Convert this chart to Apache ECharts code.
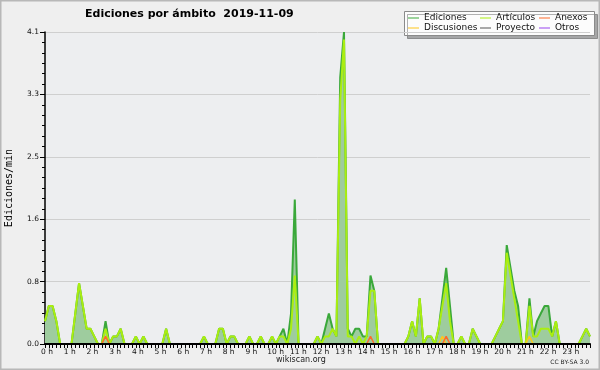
<!DOCTYPE html>
<html>
<head>
<meta charset="utf-8">
<script src="https://cdn.jsdelivr.net/npm/echarts@6/dist/echarts.min.js"></script>
<style>
html,body{margin:0;padding:0;background:#efefef;}
#chart{width:600px;height:370px;}
</style>
</head>
<body>
<div id="chart"></div>
<script>
// Tick labels of the time axis (one per hour)
const hourLabels = ['0 h','1 h','2 h','3 h','4 h','5 h','6 h','7 h','8 h','9 h','10 h','11 h',
  '12 h','13 h','14 h','15 h','16 h','17 h','18 h','19 h','20 h','21 h','22 h','23 h'];
// Y tick labels
const yTickLabels = ['0.0','0.8','1.6','2.5','3.3','4.1'];

// 10-minute bins, 00:00 .. 24:00 (145 points), edits per minute; one row = 2 hours
const ediciones = [
  0.3,0.5,0.5,0.3,0,0, 0,0,0.4,0.8,0.5,0.2,        // 00-02 h
  0.2,0.1,0,0,0.3,0, 0.1,0.1,0.2,0,0,0,            // 02-04 h
  0.1,0,0.1,0,0,0, 0,0,0.2,0,0,0,                  // 04-06 h
  0,0,0,0,0,0, 0.1,0,0,0,0.2,0.2,                  // 06-08 h
  0,0.1,0.1,0,0,0, 0.1,0,0,0.1,0,0,                // 08-10 h
  0.1,0,0.1,0.2,0,0.4, 1.9,0,0,0,0,0,              // 10-12 h
  0.1,0,0.2,0.4,0.2,0.1, 3.5,4.1,0.2,0.1,0.2,0.2,  // 12-14 h
  0.1,0.1,0.9,0.7,0,0, 0,0,0,0,0,0,                // 14-16 h
  0.1,0.3,0.1,0.6,0,0.1, 0.1,0,0.2,0.6,1.0,0.5,    // 16-18 h
  0,0,0.1,0,0,0.2, 0.1,0,0,0,0,0.1,                // 18-20 h
  0.2,0.3,1.3,1.0,0.7,0.5, 0,0,0.6,0.1,0.3,0.4,    // 20-22 h
  0.5,0.5,0.1,0.3,0,0, 0,0,0,0,0.1,0.2,            // 22-24 h
  0.1                                              // 24 h
];
const articulos = [
  0.3,0.5,0.5,0.3,0,0, 0,0,0.4,0.8,0.5,0.2,
  0.2,0.1,0,0,0.2,0, 0.1,0.1,0.2,0,0,0,
  0.1,0,0.1,0,0,0, 0,0,0.2,0,0,0,
  0,0,0,0,0,0, 0.1,0,0,0,0.2,0.2,
  0,0.1,0.1,0,0,0, 0.1,0,0,0.1,0,0,
  0.1,0,0.1,0.1,0,0.2, 0.9,0,0,0,0,0,
  0.1,0,0.1,0.1,0.2,0.1, 3.2,4.0,0.1,0.1,0,0.1,
  0,0.1,0.7,0.7,0,0, 0,0,0,0,0,0,
  0.1,0.3,0.1,0.6,0,0.1, 0.1,0,0.2,0.5,0.8,0.3,
  0,0,0.1,0,0,0.2, 0.1,0,0,0,0,0.1,
  0.2,0.3,1.2,0.9,0.6,0.3, 0,0,0.5,0.1,0.1,0.2,
  0.2,0.2,0.1,0.3,0,0, 0,0,0,0,0.1,0.2,
  0.1
];
const anexos = [
  0,0,0,0,0,0, 0,0,0,0,0,0,
  0,0,0,0,0.1,0, 0,0,0,0,0,0,
  0,0,0,0,0,0, 0,0,0,0,0,0,
  0,0,0,0,0,0, 0,0,0,0,0,0,
  0,0,0,0,0,0, 0,0,0,0,0,0,
  0,0,0,0,0,0, 0,0,0,0,0,0,
  0,0,0,0,0,0, 0,0,0,0,0,0,
  0,0,0.1,0,0,0, 0,0,0,0,0,0,
  0,0,0,0,0,0, 0,0,0,0,0.1,0,
  0,0,0,0,0,0, 0,0,0,0,0,0,
  0,0,0,0,0,0, 0,0,0,0,0,0,
  0,0,0,0,0,0, 0,0,0,0,0,0,
  0
];
const discusiones = [
  0,0,0,0,0,0, 0,0,0,0,0,0,
  0,0,0,0,0,0, 0,0,0,0,0,0,
  0,0,0,0,0,0, 0,0,0,0,0,0,
  0,0,0,0,0,0, 0,0,0,0,0,0,
  0,0,0,0,0,0, 0,0,0,0,0,0,
  0,0,0,0,0,0, 0,0,0,0,0,0,
  0,0,0,0,0,0, 0,0,0,0,0,0,
  0,0,0,0,0,0, 0,0,0,0,0,0,
  0,0,0,0,0,0, 0,0,0,0.1,0,0,
  0,0,0,0,0,0, 0,0,0,0,0,0,
  0,0,0,0,0,0, 0,0,0.1,0,0,0,
  0,0,0,0,0,0, 0,0,0,0,0,0,
  0
];
const proyecto = [];   // no edits
const otros = [];      // no edits

// category axis: 10-minute slots
const slots = [];
for (let i = 0; i < ediciones.length; i++) {
  const m = i * 10;
  slots.push(String(Math.floor(m / 60)).padStart(2, '0') + ':' + String(m % 60).padStart(2, '0'));
}

const FONT = 'DejaVu Sans';
const chart = echarts.init(document.getElementById('chart'), null, {renderer: 'canvas'});

function lineSeries(name, data, color, width, extra) {
  return Object.assign({
    name: name, type: 'line', data: data, showSymbol: false, symbol: 'none',
    lineStyle: {color: color, width: width}, itemStyle: {color: color},
    animation: false
  }, extra || {});
}

const legendBase = {
  orient: 'vertical', itemGap: 0, itemWidth: 11, itemHeight: 1, icon: 'rect',
  padding: 0, top: 13, selectedMode: false,
  textStyle: {fontFamily: FONT, fontSize: 9, color: '#111', lineHeight: 10}
};

const labelRich = {
  s: {fontFamily: FONT, fontSize: 7.5, color: '#111', padding: [0, 0, 0, 4]},
  d: {fontFamily: FONT, fontSize: 7.5, color: '#111', padding: [0, 0, 0, 7]}
};

chart.setOption({
  backgroundColor: '#efefef',
  animation: false,
  title: {
    text: 'Ediciones por ámbito  2019-11-09', left: 85, top: 9, padding: 0,
    textStyle: {fontFamily: FONT, fontSize: 11, fontWeight: 'bold', color: '#000'}
  },
  legend: [
    Object.assign({}, legendBase, {left: 408, data: ['Ediciones', 'Discusiones']}),
    Object.assign({}, legendBase, {left: 480, data: ['Artículos', 'Proyecto']}),
    Object.assign({}, legendBase, {left: 539, data: ['Anexos', 'Otros']})
  ],
  grid: {left: 45, right: 10, top: 32, bottom: 26, containLabel: false, outerBoundsMode: 'none',
    show: true, backgroundColor: '#edeef0', borderWidth: 0},
  xAxis: {
    type: 'category', data: slots, boundaryGap: false, z: 10,
    axisLine: {lineStyle: {color: '#000', width: 2}},
    axisTick: {interval: 0, length: 4, lineStyle: {color: '#000'}},
    axisLabel: {
      interval: 5, margin: 4, fontFamily: FONT, fontSize: 7.5, color: '#111', rich: labelRich,
      formatter: function (v, i) {
        const h = i / 6;
        if (i % 6 !== 0 || h >= hourLabels.length) return '';
        return (h < 10 ? '{s|' : '{d|') + hourLabels[h] + '}';
      }
    },
    splitLine: {show: false}
  },
  yAxis: {
    type: 'value', min: 0, max: 4.1, interval: 0.82,
    name: 'Ediciones/min', nameLocation: 'middle', nameGap: 31,
    nameTextStyle: {fontFamily: 'DejaVu Sans Mono', fontSize: 10, color: '#000'},
    axisLine: {show: true, lineStyle: {color: '#000', width: 1.5}},
    axisTick: {show: true, length: 5, lineStyle: {color: '#000'}},
    minorTick: {show: true, splitNumber: 6, length: 3, lineStyle: {color: '#000'}},
    axisLabel: {
      margin: 6, fontFamily: FONT, fontSize: 7.5, color: '#111',
      formatter: function (v) { const k = Math.round(v / 0.82); return yTickLabels[k] !== undefined ? yTickLabels[k] : ''; }
    },
    splitLine: {show: true, lineStyle: {color: '#cfcfcf', width: 1}}
  },
  series: [
    lineSeries('Ediciones', ediciones, '#3aa83a', 2, {areaStyle: {color: '#9ecc9e', opacity: 1}}),
    lineSeries('Artículos', articulos, '#aaee11', 2),
    lineSeries('Discusiones', discusiones, '#ffc61a', 1.5),
    lineSeries('Anexos', anexos, '#ff6a2a', 1.5),
    lineSeries('Proyecto', proyecto, '#555555', 1.5),
    lineSeries('Otros', otros, '#9944ee', 1.5)
  ],
  graphic: [
    {type: 'rect', z: -10, shape: {x: 0.5, y: 0.5, width: 599, height: 369},
     style: {fill: 'none', stroke: '#b8b8b8', lineWidth: 2}},
    {type: 'rect', z: 0, shape: {x: 404.5, y: 11.5, width: 190, height: 24},
     style: {fill: '#fcfcfc', stroke: '#8a8a8a', lineWidth: 1,
       shadowColor: 'rgba(0,0,0,0.3)', shadowOffsetX: 3, shadowOffsetY: 3, shadowBlur: 0}},
    {type: 'text', left: 276, top: 356,
     style: {text: 'wikiscan.org', font: '8px "DejaVu Sans"', fill: '#222'}},
    {type: 'text', right: 11, top: 359,
     style: {text: 'CC BY-SA 3.0', font: '6px "DejaVu Sans"', fill: '#222'}}
  ]
});
</script>
</body>
</html>
